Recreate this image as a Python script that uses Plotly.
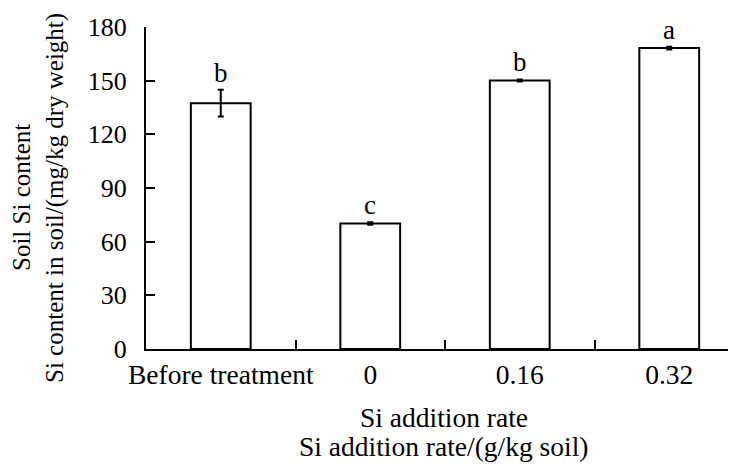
import plotly.graph_objects as go

categories = ["Before treatment", "0", "0.16", "0.32"]
si_content = [137.4, 70.2, 150.1, 168.2]
si_error = [7.5, 0.7, 0.6, 0.8]
letters = ["b", "c", "b", "a"]
y_ticks = [0, 30, 60, 90, 120, 150, 180]
y_title_lines = ["Soil Si content", "Si content in soil/(mg/kg dry weight)"]
x_title_lines = ["Si addition rate", "Si addition rate/(g/kg soil)"]

FONT = "Liberation Serif, Times New Roman, serif"

fig = go.Figure()
fig.add_trace(go.Bar(
    x=categories, y=si_content, width=0.4,
    marker=dict(color="white", line=dict(color="black", width=2)),
    error_y=dict(type="data", array=si_error, visible=True,
                 color="black", thickness=2, width=3),
    showlegend=False,
))

for i, (v, e, t) in enumerate(zip(si_content, si_error, letters)):
    fig.add_annotation(x=i, y=v + e, xref="x", yref="y", text=t, showarrow=False,
                       yanchor="bottom", yshift=0,
                       font=dict(family=FONT, size=27, color="black"))

# page body adds an 8px offset; positions below compensate for it
for txt, xs in zip(y_title_lines, [-124, -91]):
    fig.add_annotation(
        xref="paper", yref="paper", x=0, y=0.469, xshift=xs, textangle=-90,
        text=txt, showarrow=False, xanchor="center", yanchor="middle",
        font=dict(family=FONT, size=25, color="black"))
for txt, ys in zip(x_title_lines, [-68, -97]):
    fig.add_annotation(
        xref="paper", yref="paper", x=0.498, y=0, yshift=ys,
        text=txt, showarrow=False, xanchor="center", yanchor="middle",
        font=dict(family=FONT, size=27.5, color="black"))

fig.update_layout(
    width=736, height=467,
    margin=dict(l=138, r=0, t=19, b=126),
    plot_bgcolor="white", paper_bgcolor="white",
    font=dict(family=FONT, size=27, color="black"),
    bargap=0.6,
)
fig.update_xaxes(
    type="category", range=[-0.5, 3.5], tickangle=0, automargin=False,
    showline=True, linecolor="black", linewidth=2,
    ticks="inside", ticklen=9, tickwidth=2, tickcolor="black",
    tickson="boundaries", showgrid=False, tickfont=dict(size=27.5),
)
fig.update_yaxes(
    range=[0, 180], tickvals=y_ticks, automargin=False,
    showline=True, linecolor="black", linewidth=2,
    ticks="inside", ticklen=9, tickwidth=2, tickcolor="black",
    showgrid=False, zeroline=False, tickfont=dict(size=26),
    ticklabelstandoff=12,
)

fig.write_html("out.html")
